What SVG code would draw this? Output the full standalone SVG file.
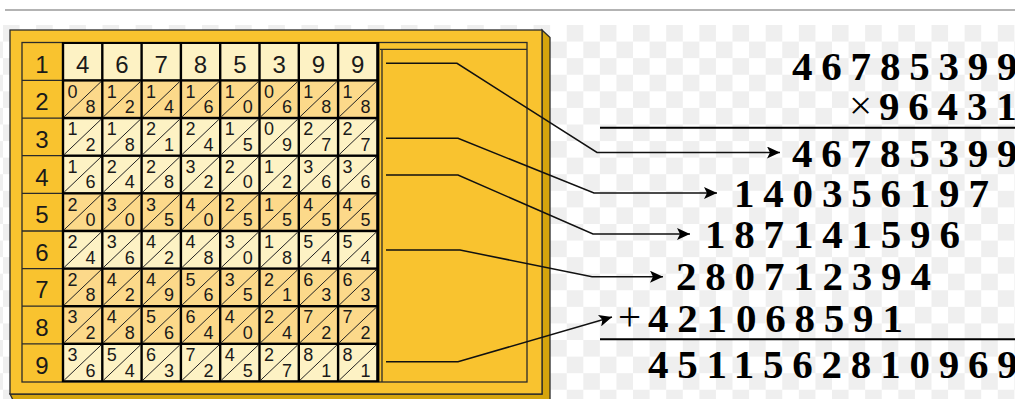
<svg xmlns="http://www.w3.org/2000/svg" xmlns:xlink="http://www.w3.org/1999/xlink" width="1015" height="399" viewBox="0 0 1015 399">
<style>
.gold{fill:#f9c32f}
.lt{fill:#fdf2c4}
.dk{fill:#fcd98a}
.edge{stroke:#2a2a2a;stroke-width:1.3}
.big{font-family:"Liberation Sans",Arial,sans-serif;font-size:24px;fill:#1a1a1a;text-anchor:middle}
.sm{font-family:"Liberation Sans",Arial,sans-serif;font-size:18px;fill:#1a1a1a;text-anchor:middle}
.num{font-family:"Liberation Serif","Times New Roman",serif;font-weight:bold;font-size:41px;letter-spacing:8.8px;fill:#000}
.op{font-family:"Liberation Serif","Times New Roman",serif;font-size:41px;fill:#000}
.rule{stroke:#000;stroke-width:2}
.con{fill:none;stroke:#111;stroke-width:1.5}
</style>
<defs>
<pattern id="chk" x="3" y="25" width="33.16" height="33.16" patternUnits="userSpaceOnUse">
<rect width="33.16" height="33.16" fill="#ffffff"/>
<rect width="16.58" height="16.58" fill="#efefef"/>
<rect x="16.58" y="16.58" width="16.58" height="16.58" fill="#efefef"/>
</pattern>
<marker id="ah" markerUnits="userSpaceOnUse" markerWidth="14" markerHeight="12" refX="13" refY="6" orient="auto">
<path d="M0,0 L13,6 L0,12 L3,6 z" fill="#000"/>
</marker>
<g id="c">
<rect width="36.9" height="35.2"/>
<line x1="0" y1="35.2" x2="36.9" y2="0" stroke="#222" stroke-width="1"/>
</g>
</defs>
<rect width="1015" height="399" fill="#fff"/>
<rect x="0" y="25" width="1015" height="374" fill="url(#chk)"/>
<line x1="5" y1="10" x2="1015" y2="10" stroke="#b3b3b3" stroke-width="2"/>

<g id="abacus">
<polygon points="542,30 550,37.5 550,402 14,402 10,394 542,394" fill="#d5a40c" class="edge"/>
<rect x="10" y="30" width="532" height="364" class="gold edge"/>
<rect x="22" y="42.5" width="505" height="339.5" class="gold edge"/>
<line x1="380" y1="49.3" x2="527" y2="49.3" class="edge"/>
<line x1="382" y1="49.3" x2="382" y2="382" class="edge"/>
<g id="labels">
<g class="edge">
<line x1="22" y1="80.4" x2="62" y2="80.4"/>
<line x1="22" y1="118.1" x2="62" y2="118.1"/>
<line x1="22" y1="155.7" x2="62" y2="155.7"/>
<line x1="22" y1="193.3" x2="62" y2="193.3"/>
<line x1="22" y1="231" x2="62" y2="231"/>
<line x1="22" y1="268.6" x2="62" y2="268.6"/>
<line x1="22" y1="306.2" x2="62" y2="306.2"/>
<line x1="22" y1="343.8" x2="62" y2="343.8"/>
</g>
<text class="big" x="42" y="72.6">1</text>
<text class="big" x="42" y="110.3">2</text>
<text class="big" x="42" y="147.9">3</text>
<text class="big" x="42" y="185.5">4</text>
<text class="big" x="42" y="223.2">5</text>
<text class="big" x="42" y="260.8">6</text>
<text class="big" x="42" y="298.4">7</text>
<text class="big" x="42" y="336">8</text>
<text class="big" x="42" y="373.7">9</text>
</g>
<rect x="61.8" y="42" width="317.6" height="340.2" fill="#000"/>
<g id="row1" class="lt">
<rect x="64.2" y="44" width="36.9" height="35.2"/><text class="big" x="82.65" y="72.6">4</text>
<rect x="103.5" y="44" width="36.9" height="35.2"/><text class="big" x="121.95" y="72.6">6</text>
<rect x="142.8" y="44" width="36.9" height="35.2"/><text class="big" x="161.25" y="72.6">7</text>
<rect x="182.1" y="44" width="36.9" height="35.2"/><text class="big" x="200.55" y="72.6">8</text>
<rect x="221.4" y="44" width="36.9" height="35.2"/><text class="big" x="239.85" y="72.6">5</text>
<rect x="260.7" y="44" width="36.9" height="35.2"/><text class="big" x="279.15" y="72.6">3</text>
<rect x="300" y="44" width="36.9" height="35.2"/><text class="big" x="318.45" y="72.6">9</text>
<rect x="339.3" y="44" width="36.9" height="35.2"/><text class="big" x="357.75" y="72.6">9</text>
</g>
<g id="row2" class="dk" transform="translate(0,81.6)">
<g transform="translate(64.2,0)"><use xlink:href="#c"/><text class="sm" x="8.3" y="16">0</text><text class="sm" x="26.3" y="31.6">8</text></g>
<g transform="translate(103.5,0)"><use xlink:href="#c"/><text class="sm" x="8.3" y="16">1</text><text class="sm" x="26.3" y="31.6">2</text></g>
<g transform="translate(142.8,0)"><use xlink:href="#c"/><text class="sm" x="8.3" y="16">1</text><text class="sm" x="26.3" y="31.6">4</text></g>
<g transform="translate(182.1,0)"><use xlink:href="#c"/><text class="sm" x="8.3" y="16">1</text><text class="sm" x="26.3" y="31.6">6</text></g>
<g transform="translate(221.4,0)"><use xlink:href="#c"/><text class="sm" x="8.3" y="16">1</text><text class="sm" x="26.3" y="31.6">0</text></g>
<g transform="translate(260.7,0)"><use xlink:href="#c"/><text class="sm" x="8.3" y="16">0</text><text class="sm" x="26.3" y="31.6">6</text></g>
<g transform="translate(300,0)"><use xlink:href="#c"/><text class="sm" x="8.3" y="16">1</text><text class="sm" x="26.3" y="31.6">8</text></g>
<g transform="translate(339.3,0)"><use xlink:href="#c"/><text class="sm" x="8.3" y="16">1</text><text class="sm" x="26.3" y="31.6">8</text></g>
</g>
<g id="row3" class="lt" transform="translate(0,119.3)">
<g transform="translate(64.2,0)"><use xlink:href="#c"/><text class="sm" x="8.3" y="16">1</text><text class="sm" x="26.3" y="31.6">2</text></g>
<g transform="translate(103.5,0)"><use xlink:href="#c"/><text class="sm" x="8.3" y="16">1</text><text class="sm" x="26.3" y="31.6">8</text></g>
<g transform="translate(142.8,0)"><use xlink:href="#c"/><text class="sm" x="8.3" y="16">2</text><text class="sm" x="26.3" y="31.6">1</text></g>
<g transform="translate(182.1,0)"><use xlink:href="#c"/><text class="sm" x="8.3" y="16">2</text><text class="sm" x="26.3" y="31.6">4</text></g>
<g transform="translate(221.4,0)"><use xlink:href="#c"/><text class="sm" x="8.3" y="16">1</text><text class="sm" x="26.3" y="31.6">5</text></g>
<g transform="translate(260.7,0)"><use xlink:href="#c"/><text class="sm" x="8.3" y="16">0</text><text class="sm" x="26.3" y="31.6">9</text></g>
<g transform="translate(300,0)"><use xlink:href="#c"/><text class="sm" x="8.3" y="16">2</text><text class="sm" x="26.3" y="31.6">7</text></g>
<g transform="translate(339.3,0)"><use xlink:href="#c"/><text class="sm" x="8.3" y="16">2</text><text class="sm" x="26.3" y="31.6">7</text></g>
</g>
<g id="row4" class="lt" transform="translate(0,156.9)">
<g transform="translate(64.2,0)"><use xlink:href="#c"/><text class="sm" x="8.3" y="16">1</text><text class="sm" x="26.3" y="31.6">6</text></g>
<g transform="translate(103.5,0)"><use xlink:href="#c"/><text class="sm" x="8.3" y="16">2</text><text class="sm" x="26.3" y="31.6">4</text></g>
<g transform="translate(142.8,0)"><use xlink:href="#c"/><text class="sm" x="8.3" y="16">2</text><text class="sm" x="26.3" y="31.6">8</text></g>
<g transform="translate(182.1,0)"><use xlink:href="#c"/><text class="sm" x="8.3" y="16">3</text><text class="sm" x="26.3" y="31.6">2</text></g>
<g transform="translate(221.4,0)"><use xlink:href="#c"/><text class="sm" x="8.3" y="16">2</text><text class="sm" x="26.3" y="31.6">0</text></g>
<g transform="translate(260.7,0)"><use xlink:href="#c"/><text class="sm" x="8.3" y="16">1</text><text class="sm" x="26.3" y="31.6">2</text></g>
<g transform="translate(300,0)"><use xlink:href="#c"/><text class="sm" x="8.3" y="16">3</text><text class="sm" x="26.3" y="31.6">6</text></g>
<g transform="translate(339.3,0)"><use xlink:href="#c"/><text class="sm" x="8.3" y="16">3</text><text class="sm" x="26.3" y="31.6">6</text></g>
</g>
<g id="row5" class="dk" transform="translate(0,194.5)">
<g transform="translate(64.2,0)"><use xlink:href="#c"/><text class="sm" x="8.3" y="16">2</text><text class="sm" x="26.3" y="31.6">0</text></g>
<g transform="translate(103.5,0)"><use xlink:href="#c"/><text class="sm" x="8.3" y="16">3</text><text class="sm" x="26.3" y="31.6">0</text></g>
<g transform="translate(142.8,0)"><use xlink:href="#c"/><text class="sm" x="8.3" y="16">3</text><text class="sm" x="26.3" y="31.6">5</text></g>
<g transform="translate(182.1,0)"><use xlink:href="#c"/><text class="sm" x="8.3" y="16">4</text><text class="sm" x="26.3" y="31.6">0</text></g>
<g transform="translate(221.4,0)"><use xlink:href="#c"/><text class="sm" x="8.3" y="16">2</text><text class="sm" x="26.3" y="31.6">5</text></g>
<g transform="translate(260.7,0)"><use xlink:href="#c"/><text class="sm" x="8.3" y="16">1</text><text class="sm" x="26.3" y="31.6">5</text></g>
<g transform="translate(300,0)"><use xlink:href="#c"/><text class="sm" x="8.3" y="16">4</text><text class="sm" x="26.3" y="31.6">5</text></g>
<g transform="translate(339.3,0)"><use xlink:href="#c"/><text class="sm" x="8.3" y="16">4</text><text class="sm" x="26.3" y="31.6">5</text></g>
</g>
<g id="row6" class="lt" transform="translate(0,232.2)">
<g transform="translate(64.2,0)"><use xlink:href="#c"/><text class="sm" x="8.3" y="16">2</text><text class="sm" x="26.3" y="31.6">4</text></g>
<g transform="translate(103.5,0)"><use xlink:href="#c"/><text class="sm" x="8.3" y="16">3</text><text class="sm" x="26.3" y="31.6">6</text></g>
<g transform="translate(142.8,0)"><use xlink:href="#c"/><text class="sm" x="8.3" y="16">4</text><text class="sm" x="26.3" y="31.6">2</text></g>
<g transform="translate(182.1,0)"><use xlink:href="#c"/><text class="sm" x="8.3" y="16">4</text><text class="sm" x="26.3" y="31.6">8</text></g>
<g transform="translate(221.4,0)"><use xlink:href="#c"/><text class="sm" x="8.3" y="16">3</text><text class="sm" x="26.3" y="31.6">0</text></g>
<g transform="translate(260.7,0)"><use xlink:href="#c"/><text class="sm" x="8.3" y="16">1</text><text class="sm" x="26.3" y="31.6">8</text></g>
<g transform="translate(300,0)"><use xlink:href="#c"/><text class="sm" x="8.3" y="16">5</text><text class="sm" x="26.3" y="31.6">4</text></g>
<g transform="translate(339.3,0)"><use xlink:href="#c"/><text class="sm" x="8.3" y="16">5</text><text class="sm" x="26.3" y="31.6">4</text></g>
</g>
<g id="row7" class="dk" transform="translate(0,269.8)">
<g transform="translate(64.2,0)"><use xlink:href="#c"/><text class="sm" x="8.3" y="16">2</text><text class="sm" x="26.3" y="31.6">8</text></g>
<g transform="translate(103.5,0)"><use xlink:href="#c"/><text class="sm" x="8.3" y="16">4</text><text class="sm" x="26.3" y="31.6">2</text></g>
<g transform="translate(142.8,0)"><use xlink:href="#c"/><text class="sm" x="8.3" y="16">4</text><text class="sm" x="26.3" y="31.6">9</text></g>
<g transform="translate(182.1,0)"><use xlink:href="#c"/><text class="sm" x="8.3" y="16">5</text><text class="sm" x="26.3" y="31.6">6</text></g>
<g transform="translate(221.4,0)"><use xlink:href="#c"/><text class="sm" x="8.3" y="16">3</text><text class="sm" x="26.3" y="31.6">5</text></g>
<g transform="translate(260.7,0)"><use xlink:href="#c"/><text class="sm" x="8.3" y="16">2</text><text class="sm" x="26.3" y="31.6">1</text></g>
<g transform="translate(300,0)"><use xlink:href="#c"/><text class="sm" x="8.3" y="16">6</text><text class="sm" x="26.3" y="31.6">3</text></g>
<g transform="translate(339.3,0)"><use xlink:href="#c"/><text class="sm" x="8.3" y="16">6</text><text class="sm" x="26.3" y="31.6">3</text></g>
</g>
<g id="row8" class="dk" transform="translate(0,307.4)">
<g transform="translate(64.2,0)"><use xlink:href="#c"/><text class="sm" x="8.3" y="16">3</text><text class="sm" x="26.3" y="31.6">2</text></g>
<g transform="translate(103.5,0)"><use xlink:href="#c"/><text class="sm" x="8.3" y="16">4</text><text class="sm" x="26.3" y="31.6">8</text></g>
<g transform="translate(142.8,0)"><use xlink:href="#c"/><text class="sm" x="8.3" y="16">5</text><text class="sm" x="26.3" y="31.6">6</text></g>
<g transform="translate(182.1,0)"><use xlink:href="#c"/><text class="sm" x="8.3" y="16">6</text><text class="sm" x="26.3" y="31.6">4</text></g>
<g transform="translate(221.4,0)"><use xlink:href="#c"/><text class="sm" x="8.3" y="16">4</text><text class="sm" x="26.3" y="31.6">0</text></g>
<g transform="translate(260.7,0)"><use xlink:href="#c"/><text class="sm" x="8.3" y="16">2</text><text class="sm" x="26.3" y="31.6">4</text></g>
<g transform="translate(300,0)"><use xlink:href="#c"/><text class="sm" x="8.3" y="16">7</text><text class="sm" x="26.3" y="31.6">2</text></g>
<g transform="translate(339.3,0)"><use xlink:href="#c"/><text class="sm" x="8.3" y="16">7</text><text class="sm" x="26.3" y="31.6">2</text></g>
</g>
<g id="row9" class="lt" transform="translate(0,345)">
<g transform="translate(64.2,0)"><use xlink:href="#c"/><text class="sm" x="8.3" y="16">3</text><text class="sm" x="26.3" y="31.6">6</text></g>
<g transform="translate(103.5,0)"><use xlink:href="#c"/><text class="sm" x="8.3" y="16">5</text><text class="sm" x="26.3" y="31.6">4</text></g>
<g transform="translate(142.8,0)"><use xlink:href="#c"/><text class="sm" x="8.3" y="16">6</text><text class="sm" x="26.3" y="31.6">3</text></g>
<g transform="translate(182.1,0)"><use xlink:href="#c"/><text class="sm" x="8.3" y="16">7</text><text class="sm" x="26.3" y="31.6">2</text></g>
<g transform="translate(221.4,0)"><use xlink:href="#c"/><text class="sm" x="8.3" y="16">4</text><text class="sm" x="26.3" y="31.6">5</text></g>
<g transform="translate(260.7,0)"><use xlink:href="#c"/><text class="sm" x="8.3" y="16">2</text><text class="sm" x="26.3" y="31.6">7</text></g>
<g transform="translate(300,0)"><use xlink:href="#c"/><text class="sm" x="8.3" y="16">8</text><text class="sm" x="26.3" y="31.6">1</text></g>
<g transform="translate(339.3,0)"><use xlink:href="#c"/><text class="sm" x="8.3" y="16">8</text><text class="sm" x="26.3" y="31.6">1</text></g>
</g>
</g>

<g id="connectors">
<polyline class="con" points="386,63.3 457,63.3 597,152.5 780,152.5" marker-end="url(#ah)"/>
<polyline class="con" points="386,138.3 458,138.3 594,193 717,193" marker-end="url(#ah)"/>
<polyline class="con" points="386,175 458,175 593,234 690,234" marker-end="url(#ah)"/>
<polyline class="con" points="386,250 460,250 592,276.7 663,276.7" marker-end="url(#ah)"/>
<polyline class="con" points="386,361.7 458,361.7 612,317" marker-end="url(#ah)"/>
</g>

<g id="multiplicand"><text class="num" x="792" y="80">46785399</text></g>
<g id="multiplier"><text class="op" x="849" y="119">×</text><text class="num" x="879" y="120">96431</text></g>
<g id="rule1"><line class="rule" x1="600" y1="127.7" x2="1015" y2="127.7"/></g>
<g id="partial1"><text class="num" x="792" y="166.7">46785399</text></g>
<g id="partial2"><text class="num" x="734" y="206.7">140356197</text></g>
<g id="partial3"><text class="num" x="705" y="248.3">187141596</text></g>
<g id="partial4"><text class="num" x="676" y="290">280712394</text></g>
<g id="partial5"><text class="op" x="618" y="330">+</text><text class="num" x="648" y="331.7">421068591</text></g>
<g id="rule2"><line class="rule" x1="600" y1="339.3" x2="1015" y2="339.3"/></g>
<g id="product"><text class="num" x="648" y="378.3">4511562810969</text></g>
</svg>
